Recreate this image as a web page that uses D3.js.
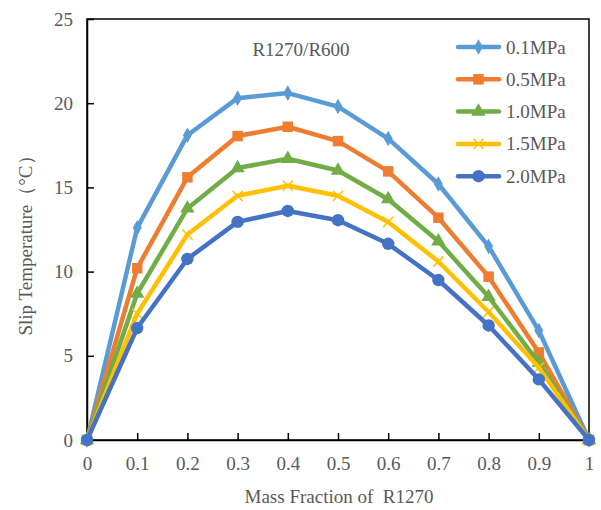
<!DOCTYPE html>
<html><head><meta charset="utf-8">
<script src="https://cdn.jsdelivr.net/npm/d3@7"></script>
<style>body{margin:0;background:#fff}svg{display:block}text{font-family:"Liberation Serif","Times New Roman",serif;fill:#595959;white-space:pre}</style>
</head><body><svg id="c" width="601" height="510"></svg>
<script>
const xValues = [0,0.1,0.2,0.3,0.4,0.5,0.6,0.7,0.8,0.9,1];
const s01 = [0,12.6,18.1,20.3,20.6,19.8,17.9,15.2,11.5,6.5,0];
const s05 = [0,10.2,15.6,18.05,18.6,17.75,15.95,13.2,9.7,5.2,0];
const s10 = [0,8.7,13.75,16.15,16.7,16.0,14.3,11.8,8.5,4.6,0];
const s15 = [0,7.5,12.2,14.5,15.1,14.5,12.95,10.6,7.6,4.3,0];
const s20 = [0,6.65,10.75,12.95,13.6,13.05,11.65,9.5,6.8,3.6,0];
const seriesNames = ["0.1MPa","0.5MPa","1.0MPa","1.5MPa","2.0MPa"];
const xTicks = [0,0.1,0.2,0.3,0.4,0.5,0.6,0.7,0.8,0.9,1];
const yTicks = [0,5,10,15,20,25];
const colors = ["#5B9BD5","#ED7D31","#70AD47","#FFC000","#4472C4"];
const symbols = ["diamond","square","triangle","x","circle"];
const allSeries = [s01,s05,s10,s15,s20];

const FS = 19;
const svg = d3.select("#c");
const L=87,R=589,T=19,B=440;
const x = d3.scaleLinear().domain([0,1]).range([L,R]);
const y = d3.scaleLinear().domain([0,25]).range([B,T]);

svg.append("rect").attr("x",L).attr("y",T).attr("width",R-L).attr("height",B-T).attr("fill","none").attr("stroke","#000").attr("stroke-width",1.5);

const gx = svg.append("g").attr("transform",`translate(0,${B})`)
  .call(d3.axisBottom(x).tickValues(xTicks).tickSizeInner(-7).tickSizeOuter(0).tickPadding(17).tickFormat(d=>d3.format("")(d)));
const gy = svg.append("g").attr("transform",`translate(${L},0)`)
  .call(d3.axisLeft(y).tickValues(yTicks).tickSizeInner(-7).tickSizeOuter(0).tickPadding(14));
[gx,gy].forEach(g=>{g.selectAll("path,line").attr("stroke","#000").attr("stroke-width",1.5);g.selectAll("text").attr("font-size",FS).attr("fill","#595959").attr("font-family","Liberation Serif");});

function marker(sel,i,cx,cy,scale){
  const c=colors[i];
  if(symbols[i]==="diamond"){
    sel.append("path").attr("d",d3.symbol(d3.symbolDiamond,70*scale)()).attr("transform",`translate(${cx},${cy})`).attr("fill",c);
  } else if(symbols[i]==="square"){
    sel.append("path").attr("d",d3.symbol(d3.symbolSquare,110*scale)()).attr("transform",`translate(${cx},${cy})`).attr("fill",c);
  } else if(symbols[i]==="triangle"){
    sel.append("path").attr("d",d3.symbol(d3.symbolTriangle,90*scale)()).attr("transform",`translate(${cx},${cy})`).attr("fill",c);
  } else if(symbols[i]==="x"){
    sel.append("path").attr("d",d3.symbol(d3.symbolX,70*scale)()).attr("transform",`translate(${cx},${cy})`).attr("fill","none").attr("stroke",c).attr("stroke-width",1.5);
  } else {
    sel.append("circle").attr("cx",cx).attr("cy",cy).attr("r",6.2*Math.sqrt(scale)).attr("fill",c);
  }
}

const line = d3.line().x((d,i)=>x(xValues[i])).y(d=>y(d));
allSeries.forEach((s,i)=>{
  const g=svg.append("g");
  g.append("path").datum(s).attr("d",line).attr("fill","none").attr("stroke",colors[i]).attr("stroke-width",4.5).attr("stroke-linejoin","round");
  s.forEach((v,j)=>marker(g,i,x(xValues[j]),y(v),1));
});

svg.append("text").attr("x",301).attr("y",56).attr("text-anchor","middle").attr("font-size",FS).text("R1270/R600");

seriesNames.forEach((n,i)=>{
  const yy=47+i*32.3;
  const g=svg.append("g");
  g.append("line").attr("x1",458).attr("x2",499).attr("y1",yy).attr("y2",yy).attr("stroke",colors[i]).attr("stroke-width",4.5).attr("stroke-linecap","round");
  marker(g,i,478.5,yy,1);
  g.append("text").attr("x",506).attr("y",yy+6.5).attr("font-size",FS).text(n);
});

svg.append("text").attr("x",339).attr("y",503).attr("text-anchor","middle").attr("font-size",FS).text("Mass Fraction of  R1270");
svg.append("text").attr("transform","translate(32,241) rotate(-90)").attr("text-anchor","middle").attr("font-size",FS).text("Slip Temperature（°C）");
</script></body></html>
